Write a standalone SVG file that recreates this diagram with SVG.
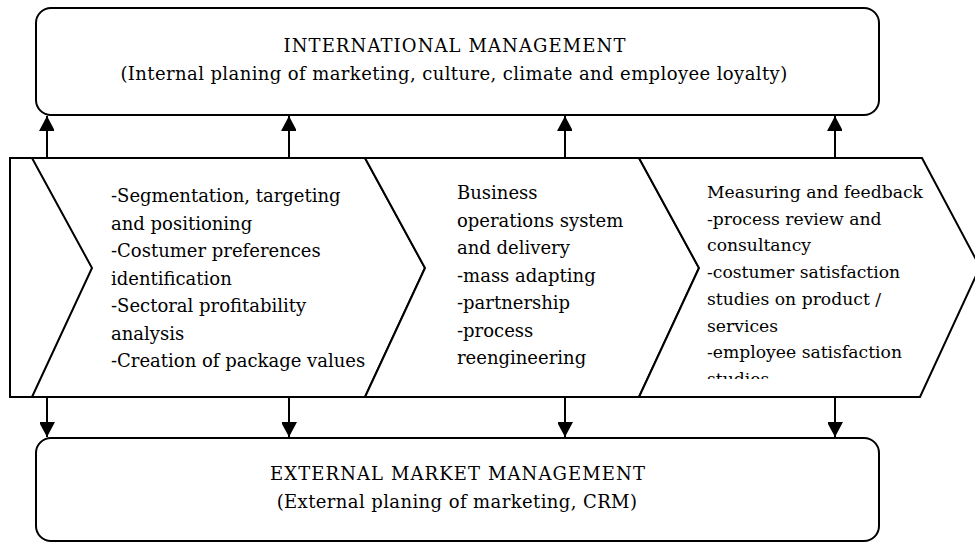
<svg xmlns="http://www.w3.org/2000/svg" width="975" height="543" viewBox="0 0 975 543">
<style>
.box{fill:#fff;stroke:#000;stroke-width:2}
.shape{fill:#fff;stroke:#000;stroke-width:2;stroke-linejoin:miter}
.ln{fill:none;stroke:#000;stroke-width:2}
.t{font-family:"DejaVu Serif","Liberation Serif",serif;font-size:18px;fill:#000}
.s{font-size:17.2px}
.c{text-anchor:middle}
.cap{letter-spacing:1.1px}
.sub{letter-spacing:0.4px}
</style>
<defs>
<marker id="ah" markerUnits="userSpaceOnUse" markerWidth="16" markerHeight="15" refX="15" refY="8" orient="auto">
<path d="M0,0 L15,8 L0,16 Z" fill="#000"/>
</marker>
<clipPath id="clipTop"><rect x="36" y="8" width="843" height="76"/></clipPath>
<clipPath id="clipC3"><rect x="700" y="160" width="260" height="219"/></clipPath>
</defs>
<rect width="975" height="543" fill="#fff"/>

<g id="intl">
<rect class="box" x="36" y="8" width="843" height="107" rx="15"/>
<g clip-path="url(#clipTop)">
<text class="t c cap" x="455" y="52">INTERNATIONAL MANAGEMENT</text>
<text class="t c sub" x="454" y="80">(Internal planing of marketing, culture, climate and employee loyalty)</text>
</g>
</g>

<g id="ext">
<rect class="box" x="36" y="438" width="843" height="103" rx="15"/>
<text class="t c cap" x="458" y="480">EXTERNAL MARKET MANAGEMENT</text>
<text class="t c sub" x="457" y="508">(External planing of marketing, CRM)</text>
</g>

<g id="step1">
<polygon class="shape" points="10,158 365,158 425,268 365,397 10,397"/>
<polyline class="ln" points="32,158 92,268 32,397"/>
<text class="t">
<tspan x="111" y="202">-Segmentation, targeting</tspan>
<tspan x="111" y="229.5">and positioning</tspan>
<tspan x="111" y="257">-Costumer preferences</tspan>
<tspan x="111" y="284.5">identification</tspan>
<tspan x="111" y="312">-Sectoral profitability</tspan>
<tspan x="111" y="339.5">analysis</tspan>
<tspan x="111" y="367">-Creation of package values</tspan>
</text>
</g>

<g id="step2">
<polygon class="shape" points="365,158 639,158 699,268 639,397 365,397 425,268"/>
<text class="t">
<tspan x="457" y="199">Business</tspan>
<tspan x="457" y="226.5">operations system</tspan>
<tspan x="457" y="254">and delivery</tspan>
<tspan x="457" y="281.5">-mass adapting</tspan>
<tspan x="457" y="309">-partnership</tspan>
<tspan x="457" y="336.5">-process</tspan>
<tspan x="457" y="364">reengineering</tspan>
</text>
</g>

<g id="step3">
<polygon class="shape" points="639,158 922,158 980,267 920,397 639,397 699,268"/>
<text class="t s" clip-path="url(#clipC3)">
<tspan x="707" y="198">Measuring and feedback</tspan>
<tspan x="707" y="224.7">-process review and</tspan>
<tspan x="707" y="251.4">consultancy</tspan>
<tspan x="707" y="278.1">-costumer satisfaction</tspan>
<tspan x="707" y="304.8">studies on product /</tspan>
<tspan x="707" y="331.5">services</tspan>
<tspan x="707" y="358.2">-employee satisfaction</tspan>
<tspan x="707" y="384.9">studies</tspan>
</text>
</g>

<g id="connectors">
<line class="ln" x1="47" y1="158" x2="47" y2="116" marker-end="url(#ah)"/>
<line class="ln" x1="289" y1="158" x2="289" y2="116" marker-end="url(#ah)"/>
<line class="ln" x1="565" y1="158" x2="565" y2="116" marker-end="url(#ah)"/>
<line class="ln" x1="835" y1="158" x2="835" y2="116" marker-end="url(#ah)"/>
<line class="ln" x1="47" y1="397" x2="47" y2="437" marker-end="url(#ah)"/>
<line class="ln" x1="289" y1="397" x2="289" y2="437" marker-end="url(#ah)"/>
<line class="ln" x1="565" y1="397" x2="565" y2="437" marker-end="url(#ah)"/>
<line class="ln" x1="835" y1="397" x2="835" y2="437" marker-end="url(#ah)"/>
</g>
</svg>
